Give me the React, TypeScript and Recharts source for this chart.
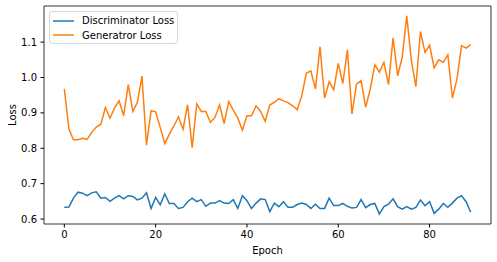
import React from 'react';
import { LineChart, Line, XAxis, YAxis, Legend, ReferenceArea } from 'recharts';

const discLoss = [
  0.633, 0.634, 0.659, 0.676, 0.673, 0.666, 0.674, 0.677, 0.659, 0.661,
  0.65, 0.659, 0.666, 0.657, 0.666, 0.664, 0.654, 0.659, 0.674, 0.63,
  0.661, 0.64, 0.671, 0.644, 0.644, 0.63, 0.633, 0.649, 0.659, 0.649,
  0.655, 0.636, 0.645, 0.645, 0.652, 0.645, 0.644, 0.655, 0.63, 0.666,
  0.652, 0.63, 0.645, 0.657, 0.655, 0.621, 0.645, 0.635, 0.649, 0.633,
  0.633, 0.641, 0.645, 0.641, 0.63, 0.642, 0.63, 0.63, 0.659, 0.638,
  0.638, 0.644, 0.636, 0.631, 0.633, 0.655, 0.632, 0.641, 0.644, 0.614,
  0.635, 0.642, 0.657, 0.635, 0.628, 0.635, 0.628, 0.633, 0.654, 0.638,
  0.649, 0.616, 0.628, 0.644, 0.633, 0.645, 0.659, 0.666, 0.649, 0.619,
];

const genLoss = [
  0.968, 0.855, 0.824, 0.824, 0.828, 0.825, 0.845, 0.86, 0.868, 0.915,
  0.885, 0.914, 0.934, 0.892, 0.98, 0.904, 0.93, 1.004, 0.809, 0.906,
  0.903, 0.859, 0.813, 0.84, 0.863, 0.889, 0.854, 0.923, 0.802, 0.925,
  0.904, 0.904, 0.873, 0.887, 0.923, 0.87, 0.932, 0.908, 0.885, 0.851,
  0.892, 0.892, 0.92, 0.904, 0.876, 0.922, 0.93, 0.94, 0.934, 0.929,
  0.92, 0.909, 0.948, 1.012, 1.019, 0.967, 1.087, 0.942, 0.988, 0.965,
  1.04, 0.983, 1.078, 0.897, 0.981, 0.991, 0.916, 0.967, 1.036, 1.015,
  1.043, 0.98, 1.112, 1.005, 1.057, 1.174, 1.048, 0.974, 1.13, 1.071,
  1.091, 1.027, 1.05, 1.043, 1.064, 0.942, 0.996, 1.09, 1.083, 1.093,
];

const xTicks = [0, 20, 40, 60, 80];
const yTicks = [0.6, 0.7, 0.8, 0.9, 1.0, 1.1];
const xDomain: [number, number] = [-4.45, 93.45];
const yDomain: [number, number] = [0.586, 1.202];

const seriesNames = ['Discriminator Loss', 'Generatror Loss'];
const colors = ['#1f77b4', '#ff7f0e'];

const data = genLoss.map((g, i) => ({ epoch: i, disc: discLoss[i], gen: g }));

const font = '"DejaVu Sans", sans-serif';
const tickStyle = { fontSize: 10, fontFamily: font, fill: '#000' };

function LegendBox() {
  return (
    <div
      style={{
        position: 'relative',
        width: 127,
        height: 31,
        border: '1px solid #d6d6d6',
        borderRadius: 3,
        background: 'rgba(255,255,255,0.8)',
        fontFamily: font,
        fontSize: 10,
        color: '#000',
      }}
    >
      {seriesNames.map((name, i) => (
        <div
          key={name}
          style={{
            position: 'absolute',
            left: 3,
            top: 2 + i * 14.7,
            height: 13,
            display: 'flex',
            alignItems: 'center',
            whiteSpace: 'nowrap',
          }}
        >
          <svg width={21} height={4} style={{ marginRight: 8 }}>
            <line x1={0} y1={2} x2={21} y2={2} stroke={colors[i]} strokeWidth={1.5} />
          </svg>
          <span>{name}</span>
        </div>
      ))}
    </div>
  );
}

export default function App() {
  return (
    <div style={{ position: 'absolute', left: 0, top: 0, background: '#fff' }}>
      <LineChart
        width={497}
        height={262}
        data={data}
        margin={{ top: 6, right: 6, left: 0, bottom: 0 }}
      >
        <XAxis
          dataKey="epoch"
          type="number"
          domain={xDomain}
          ticks={xTicks}
          allowDataOverflow
          height={38}
          tickSize={3.5}
          tickMargin={3}
          tick={tickStyle}
          stroke="#000"
          axisLine={false}
          label={{
            content: (p: any) => (
              <text
                x={p.viewBox.x + p.viewBox.width / 2}
                y={p.viewBox.y + 26}
                textAnchor="middle"
                dominantBaseline="central"
                style={{ fontSize: 10, fontFamily: font }}
              >
                Epoch
              </text>
            ),
          }}
        />
        <YAxis
          type="number"
          domain={yDomain}
          ticks={yTicks}
          allowDataOverflow
          width={44}
          tickSize={3.5}
          tickMargin={3.5}
          tick={tickStyle}
          tickFormatter={(v: number) => v.toFixed(1)}
          stroke="#000"
          axisLine={false}
          label={{
            content: (p: any) => {
              const cx = p.viewBox.x + 12;
              const cy = p.viewBox.y + p.viewBox.height / 2;
              return (
                <text
                  x={cx}
                  y={cy}
                  transform={`rotate(-90 ${cx} ${cy})`}
                  textAnchor="middle"
                  dominantBaseline="central"
                  style={{ fontSize: 10, fontFamily: font }}
                >
                  Loss
                </text>
              );
            },
          }}
        />
        <ReferenceArea
          x1={xDomain[0]}
          x2={xDomain[1]}
          y1={yDomain[0]}
          y2={yDomain[1]}
          fill="none"
          stroke="#000"
          strokeWidth={0.8}
        />
        <Line
          dataKey="disc"
          stroke={colors[0]}
          strokeWidth={1.5}
          dot={false}
          type="linear"
          isAnimationActive={false}
        />
        <Line
          dataKey="gen"
          stroke={colors[1]}
          strokeWidth={1.5}
          dot={false}
          type="linear"
          isAnimationActive={false}
        />
        <Legend
          layout="horizontal"
          verticalAlign="middle"
          align="center"
          wrapperStyle={{ left: 49, top: 11, width: 'auto', height: 'auto' }}
          content={() => <LegendBox />}
        />
      </LineChart>
    </div>
  );
}
